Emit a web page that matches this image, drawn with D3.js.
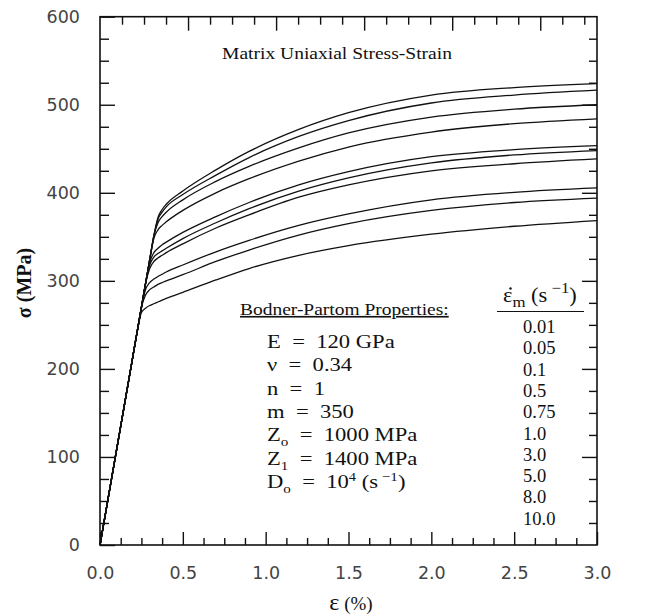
<!DOCTYPE html>
<html><head><meta charset="utf-8">
<script src="https://cdn.jsdelivr.net/npm/d3@7"></script>
<style>
html,body{margin:0;padding:0;background:#fff;}
svg{display:block;}
text{white-space:pre;}
.serif{font-family:"Liberation Serif","Times New Roman",serif;fill:#111;}
.num{font-family:"DejaVu Sans",sans-serif;fill:#444;font-size:17.5px;}
</style></head><body>
<svg id="chart" width="647" height="614"></svg>
<script>
// Strain grid (%) shared by every stress-strain curve
const strain = [0, 0.1, 0.2, 0.225, 0.25, 0.275, 0.3, 0.325, 0.35, 0.375, 0.4, 0.5, 0.7, 0.9, 1.2, 1.5, 2.0, 2.5, 3.0];

// Stress (MPa) at each strain, one array per strain rate (s^-1)
const stress001 = [0, 108, 216, 243, 264, 269, 272, 274, 276, 278, 280, 287, 301, 314, 329, 340, 353, 362, 368.5];
const stress005 = [0, 108, 216, 243, 270, 284, 290, 293, 296, 298, 300, 307, 322, 335, 352, 365, 380, 389, 394];
const stress01  = [0, 108, 216, 243, 270, 290, 298, 302, 305, 307.5, 310, 318, 333, 346, 363, 376, 392, 400.5, 405.5];
const stress05  = [0, 108, 216, 243, 270, 297, 314, 322, 326, 329, 332, 342, 360, 375, 395, 409, 425, 433, 438.5];
const stress075 = [0, 108, 216, 243, 270, 297, 318, 327, 331, 334, 337, 348, 366, 382, 402, 417, 434, 443, 448];
const stress1   = [0, 108, 216, 243, 270, 297, 321, 332, 337, 341, 344, 355, 373, 389, 409, 424, 441, 449, 453.5];
const stress3   = [0, 108, 216, 243, 270, 297, 324, 348, 358, 363, 367, 380, 400, 416, 436, 452, 469, 478.5, 484];
const stress5   = [0, 108, 216, 243, 270, 297, 324, 351, 366, 373, 378, 392, 413, 430, 451, 468, 486, 495, 500];
const stress8   = [0, 108, 216, 243, 270, 297, 324, 351, 370, 378, 384, 398, 420, 440, 464, 482, 502, 511, 516.5];
const stress10  = [0, 108, 216, 243, 270, 297, 324, 351, 372, 381, 387, 402, 426, 447, 472, 491, 511, 519.5, 524];

const rateLabels = ["0.01", "0.05", "0.1", "0.5", "0.75", "1.0", "3.0", "5.0", "8.0", "10.0"];
const stressSeries = [stress001, stress005, stress01, stress05, stress075, stress1, stress3, stress5, stress8, stress10];

const xTickValues = [0, 0.5, 1.0, 1.5, 2.0, 2.5, 3.0];
const xTickLabels = ["0.0", "0.5", "1.0", "1.5", "2.0", "2.5", "3.0"];
const yTickValues = [0, 100, 200, 300, 400, 500, 600];

const titleText = "Matrix Uniaxial Stress-Strain";
const propsHeading = "Bodner-Partom Properties:";
const propRows = [
  {sym: "E", sub: "", rest: "  =  120 GPa"},
  {sym: "\u03bd", sub: "", rest: "  =  0.34"},
  {sym: "n", sub: "", rest: "  =  1"},
  {sym: "m", sub: "", rest: "  =  350"},
  {sym: "Z", sub: "o", rest: "  =  1000 MPa"},
  {sym: "Z", sub: "1", rest: "  =  1400 MPa"},
  {sym: "D", sub: "o", rest: "  =  10", sup: "4", tail: " (s", sup2: " \u22121", tail2: ")"}
];

const svg = d3.select("#chart");
const plot = {left: 100, right: 597, top: 16.7, bottom: 545};

const x = d3.scaleLinear().domain([0, 3]).range([plot.left, plot.right]);
const y = d3.scaleLinear().domain([0, 600]).range([plot.bottom, plot.top]);
// the top edge carries ticks at the same pixel pitch as the stress axis
const pxPerMPa = (plot.bottom - plot.top) / 600;
const xTop = d3.scaleLinear().domain([0, (plot.right - plot.left) / pxPerMPa]).range([plot.left, plot.right]);

const minorY = d3.range(25, 600, 25).filter(v => v % 100 !== 0);
const minorX = d3.range(0.125, 3, 0.125).filter(v => Math.abs(v / 0.5 - Math.round(v / 0.5)) > 1e-6);
const topAll = d3.range(25, xTop.domain()[1], 25);
const topMajor = topAll.filter(v => v % 100 === 0);
const topMinor = topAll.filter(v => v % 100 !== 0);

function styleAxis(g) {
  g.select(".domain").remove();
  g.selectAll(".tick line").attr("stroke", "#111").attr("stroke-width", 1.4);
}
function styleLabels(g) {
  g.selectAll(".tick text").attr("class", "num").attr("fill", null).attr("font-family", null).attr("font-size", null);
}

// left axis with labels
svg.append("g").attr("transform", `translate(${plot.left},0)`)
  .call(d3.axisLeft(y).tickValues(yTickValues).tickSizeInner(-15).tickSizeOuter(0).tickPadding(20).tickFormat(d3.format("d")))
  .call(styleAxis).call(styleLabels);
svg.append("g").attr("transform", `translate(${plot.left},0)`)
  .call(d3.axisLeft(y).tickValues(minorY).tickSizeInner(-9).tickSizeOuter(0).tickFormat(""))
  .call(styleAxis);

// right axis
svg.append("g").attr("transform", `translate(${plot.right},0)`)
  .call(d3.axisRight(y).tickValues(yTickValues.slice(1, -1)).tickSizeInner(-15).tickSizeOuter(0).tickFormat(""))
  .call(styleAxis);
svg.append("g").attr("transform", `translate(${plot.right},0)`)
  .call(d3.axisRight(y).tickValues(minorY).tickSizeInner(-8).tickSizeOuter(0).tickFormat(""))
  .call(styleAxis);

// bottom axis with labels
svg.append("g").attr("transform", `translate(0,${plot.bottom})`)
  .call(d3.axisBottom(x).tickValues(xTickValues).tickSizeInner(-13).tickSizeOuter(0).tickPadding(22)
    .tickFormat((d, i) => xTickLabels[i]))
  .call(styleAxis).call(styleLabels);
svg.append("g").attr("transform", `translate(0,${plot.bottom})`)
  .call(d3.axisBottom(x).tickValues(minorX).tickSizeInner(-7).tickSizeOuter(0).tickFormat(""))
  .call(styleAxis);

// top axis
svg.append("g").attr("transform", `translate(0,${plot.top})`)
  .call(d3.axisTop(xTop).tickValues(topMajor).tickSizeInner(-14).tickSizeOuter(0).tickFormat(""))
  .call(styleAxis);
svg.append("g").attr("transform", `translate(0,${plot.top})`)
  .call(d3.axisTop(xTop).tickValues(topMinor).tickSizeInner(-8).tickSizeOuter(0).tickFormat(""))
  .call(styleAxis);

// curves
const line = d3.line()
  .x((d, i) => x(strain[i]))
  .y(d => y(d))
  .curve(d3.curveMonotoneX);

svg.append("g").selectAll("path").data(stressSeries).join("path")
  .attr("d", line)
  .attr("fill", "none")
  .attr("stroke", "#111")
  .attr("stroke-width", 1.3);

// frame
svg.append("rect")
  .attr("x", plot.left).attr("y", plot.top)
  .attr("width", plot.right - plot.left).attr("height", plot.bottom - plot.top)
  .attr("fill", "none").attr("stroke", "#111").attr("stroke-width", 1.6);

// serif text set in a slightly widened face
function wideText(px, py, sx, size) {
  return svg.append("g").attr("transform", `translate(${px},${py}) scale(${sx},1)`)
    .append("text").attr("class", "serif").attr("font-size", size);
}

// axis titles
const xt = svg.append("text").attr("class", "serif").attr("x", 351).attr("y", 610).attr("text-anchor", "middle");
xt.append("tspan").attr("font-size", 24).text("\u03b5");
xt.append("tspan").attr("font-size", 19).text(" (%)");

svg.append("text").attr("class", "serif")
  .attr("transform", "translate(31,283) rotate(-90)")
  .attr("text-anchor", "middle").attr("font-weight", "bold").attr("font-size", 20)
  .text("\u03c3 (MPa)");

// chart title
wideText(337, 59, 1.15, 17).attr("text-anchor", "middle").text(titleText);

// material properties block
wideText(240, 315, 1.18, 16.5).attr("text-decoration", "underline").text(propsHeading);

propRows.forEach((r, i) => {
  const t = wideText(267, 348 + i * 23.3, 1.16, 19.5);
  t.append("tspan").text(r.sym);
  if (r.sub) t.append("tspan").attr("font-size", 13).attr("dy", r.sub === "1" ? 5.5 : 5).text(r.sub);
  t.append("tspan").attr("dy", r.sub ? (r.sub === "1" ? -5.5 : -5) : 0).text(r.rest);
  if (r.sup) {
    t.append("tspan").attr("font-size", 12.5).attr("dy", -6.5).text(r.sup);
    t.append("tspan").attr("dy", 6.5).text(r.tail);
    t.append("tspan").attr("font-size", 13).attr("dy", -6.5).text(r.sup2);
    t.append("tspan").attr("dy", 6.5).text(r.tail2);
  }
});

// strain-rate list
const hdr = wideText(503, 302, 1.12, 20);
hdr.append("tspan").text("\u03b5");
hdr.append("tspan").attr("font-size", 15).attr("dy", 5).text("m");
hdr.append("tspan").attr("dy", -5).text(" (s");
hdr.append("tspan").attr("font-size", 15).attr("dy", -9).text(" \u22121");
hdr.append("tspan").attr("dy", 9).text(")");
svg.append("circle").attr("cx", 510.5).attr("cy", 288.5).attr("r", 1.2).attr("fill", "#111");
svg.append("line").attr("x1", 497).attr("x2", 584).attr("y1", 311.5).attr("y2", 311.5)
  .attr("stroke", "#111").attr("stroke-width", 1.2);

svg.append("g").selectAll("text").data(rateLabels).join("text")
  .attr("class", "serif").attr("x", 523)
  .attr("y", (d, i) => 333 + i * 21.3)
  .attr("font-size", 18.5).text(d => d);
</script>
</body></html>
